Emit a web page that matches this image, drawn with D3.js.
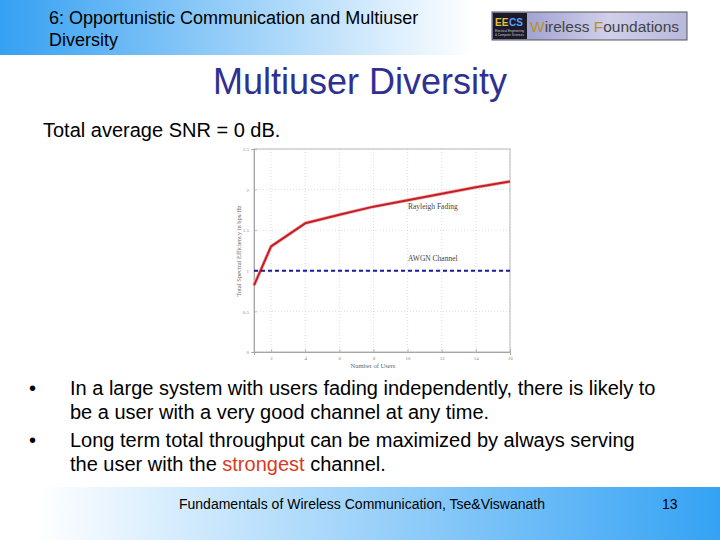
<!DOCTYPE html>
<html><head><meta charset="utf-8">
<script src="https://cdn.jsdelivr.net/npm/d3@7"></script>
<style>body{margin:0;background:#fff}svg{display:block}</style>
</head><body>
<script>
const users = [1, 2, 4, 6, 8, 10, 12, 14, 16];
const rayleigh = [0.82, 1.30, 1.585, 1.69, 1.79, 1.87, 1.95, 2.03, 2.10];
const awgn = [1.0, 1.0];
const awgnUsers = [1, 16];
const xTicks = [2, 4, 6, 8, 10, 12, 14, 16];
const yTicks = [0, 0.5, 1, 1.5, 2, 2.5];
const bullets = [
  ["In a large system with users fading independently, there is likely to", "be a user with a very good channel at any time."],
  ["Long term total throughput can be maximized by always serving", "the user with the |strongest| channel."]
];

const svg = d3.select("body").append("svg").attr("width", 720).attr("height", 540);
const defs = svg.append("defs");
const hg = defs.append("linearGradient").attr("id", "hg").attr("x1", 0).attr("x2", 1);
hg.append("stop").attr("offset", 0).attr("stop-color", "#35a0f2");
hg.append("stop").attr("offset", 0.66).attr("stop-color", "#ffffff");
const fg = defs.append("linearGradient").attr("id", "fg").attr("x1", 0).attr("x2", 1);
fg.append("stop").attr("offset", 0.05).attr("stop-color", "#ffffff");
fg.append("stop").attr("offset", 1).attr("stop-color", "#34a2f4");
const lg = defs.append("linearGradient").attr("id", "lg").attr("x1", 0).attr("x2", 1);
lg.append("stop").attr("offset", 0).attr("stop-color", "#8f8fc8");
lg.append("stop").attr("offset", 0.6).attr("stop-color", "#d0d0ea");
lg.append("stop").attr("offset", 1).attr("stop-color", "#b8b8dc");

// header
svg.append("rect").attr("x", 0).attr("y", 0).attr("width", 720).attr("height", 55).attr("fill", "url(#hg)");
const sans = "Liberation Sans, Arial, sans-serif";
svg.append("text").attr("x", 49).attr("y", 24).attr("font-family", sans).attr("font-size", 18).text("6: Opportunistic Communication and Multiuser");
svg.append("text").attr("x", 49).attr("y", 46).attr("font-family", sans).attr("font-size", 18).text("Diversity");

// logo
svg.append("rect").attr("x", 492).attr("y", 12).attr("width", 195).attr("height", 28).attr("fill", "url(#lg)").attr("stroke", "#555").attr("stroke-width", 1);
svg.append("rect").attr("x", 493).attr("y", 13).attr("width", 34).attr("height", 26).attr("fill", "#1a1a2a");
svg.append("text").attr("x", 495).attr("y", 26).attr("font-family", sans).attr("font-weight", "bold").attr("font-size", 10).attr("fill", "#e8c040").text("EE");
svg.append("text").attr("x", 509).attr("y", 26).attr("font-family", sans).attr("font-weight", "bold").attr("font-size", 10).attr("fill", "#5aa0ff").text("CS");
svg.append("text").attr("x", 495).attr("y", 32).attr("font-family", sans).attr("font-size", 3).attr("fill", "#ccc").text("Electrical Engineering");
svg.append("text").attr("x", 495).attr("y", 36).attr("font-family", sans).attr("font-size", 3).attr("fill", "#ccc").text("& Computer Sciences");
const lt = svg.append("text").attr("x", 530).attr("y", 32).attr("font-family", sans).attr("font-size", 15.5).attr("fill", "#444");
lt.append("tspan").attr("fill", "#b8902a").text("W");
lt.append("tspan").text("ireless ");
lt.append("tspan").attr("fill", "#b8902a").text("F");
lt.append("tspan").text("oundations");

// title
svg.append("text").attr("x", 360).attr("y", 94).attr("text-anchor", "middle").attr("font-family", sans).attr("font-size", 36).attr("fill", "#2e3192").text("Multiuser Diversity");
svg.append("text").attr("x", 43).attr("y", 137).attr("font-family", sans).attr("font-size", 20).text("Total average SNR = 0 dB.");

// chart
const m = {l: 254, r: 510, t: 149, b: 352};
const x = d3.scaleLinear().domain([1, 16]).range([m.l, m.r]);
const y = d3.scaleLinear().domain([0, 2.5]).range([m.b, m.t]);
const serif = "Liberation Serif, Times New Roman, serif";
const g = svg.append("g");
// grid
g.selectAll(".gx").data(xTicks).enter().append("line")
  .attr("x1", d => x(d)).attr("x2", d => x(d)).attr("y1", m.t).attr("y2", m.b)
  .attr("stroke", "#c8c8c8").attr("stroke-width", 0.6).attr("stroke-dasharray", "1,2");
g.selectAll(".gy").data(yTicks).enter().append("line")
  .attr("x1", m.l).attr("x2", m.r).attr("y1", d => y(d)).attr("y2", d => y(d))
  .attr("stroke", "#c8c8c8").attr("stroke-width", 0.6).attr("stroke-dasharray", "1,2");
g.append("rect").attr("x", m.l).attr("y", m.t).attr("width", m.r - m.l).attr("height", m.b - m.t)
  .attr("fill", "none").attr("stroke", "#aaa").attr("stroke-width", 0.8);

const xa = g.append("g").attr("transform", `translate(0,${m.b})`)
  .call(d3.axisBottom(x).tickValues(xTicks).tickSize(3).tickPadding(1).tickFormat(d3.format("d")));
const ya = g.append("g").attr("transform", `translate(${m.l},0)`)
  .call(d3.axisLeft(y).tickValues(yTicks).tickSize(3).tickPadding(2).tickFormat(d => d));
[xa, ya].forEach(a => {
  a.select(".domain").attr("stroke", "#999").attr("stroke-width", 0.8);
  a.selectAll(".tick line").attr("stroke", "#999").attr("stroke-width", 0.6);
  a.selectAll(".tick text").attr("font-family", serif).attr("font-size", 5).attr("fill", "#888");
});
ya.selectAll(".tick line").attr("x2", 3);
xa.selectAll(".tick line").attr("y2", -3);

const line = d3.line().x((d, i) => x(users[i])).y(d => y(d));
g.append("path").datum(rayleigh).attr("d", line).attr("fill", "none")
  .attr("stroke", "#f0b0b0").attr("stroke-width", 3.5).attr("stroke-linejoin", "round");
g.append("path").datum(rayleigh).attr("d", line).attr("fill", "none")
  .attr("stroke", "#c41e24").attr("stroke-width", 2).attr("stroke-linejoin", "round");
const line2 = d3.line().x((d, i) => x(awgnUsers[i])).y(d => y(d));
g.append("path").datum(awgn).attr("d", line2).attr("fill", "none")
  .attr("stroke", "#1a1a9a").attr("stroke-width", 2).attr("stroke-dasharray", "4,3");

g.append("text").attr("x", 408).attr("y", 209).attr("font-family", serif).attr("font-size", 7.5).attr("fill", "#444").text("Rayleigh Fading");
g.append("text").attr("x", 408).attr("y", 261).attr("font-family", serif).attr("font-size", 7.5).attr("fill", "#444").text("AWGN Channel");
g.append("text").attr("x", 373).attr("y", 368).attr("text-anchor", "middle").attr("font-family", serif).attr("font-size", 6.5).attr("fill", "#666").text("Number of Users");
g.append("text").attr("transform", "translate(241,251) rotate(-90)").attr("text-anchor", "middle").attr("font-family", serif).attr("font-size", 6.5).attr("fill", "#666").text("Total Spectral Efficiency in bps/Hz");

// bullets
const by = [395, 419, 447, 471];
bullets.forEach((b, i) => {
  svg.append("text").attr("x", 29).attr("y", by[i * 2]).attr("font-family", sans).attr("font-size", 20).text("•");
  b.forEach((ln, j) => {
    const t = svg.append("text").attr("x", 70).attr("y", by[i * 2 + j]).attr("font-family", sans).attr("font-size", 20);
    ln.split("|").forEach((part, k) => {
      t.append("tspan").attr("fill", k === 1 ? "#d83a1e" : "#000").text(part);
    });
  });
});

// footer
svg.append("rect").attr("x", 0).attr("y", 487).attr("width", 720).attr("height", 53).attr("fill", "url(#fg)");
svg.append("text").attr("x", 179).attr("y", 509).attr("font-family", sans).attr("font-size", 14).text("Fundamentals of Wireless Communication, Tse&Viswanath");
svg.append("text").attr("x", 662).attr("y", 509).attr("font-family", sans).attr("font-size", 14).text("13");
</script>
</body></html>
